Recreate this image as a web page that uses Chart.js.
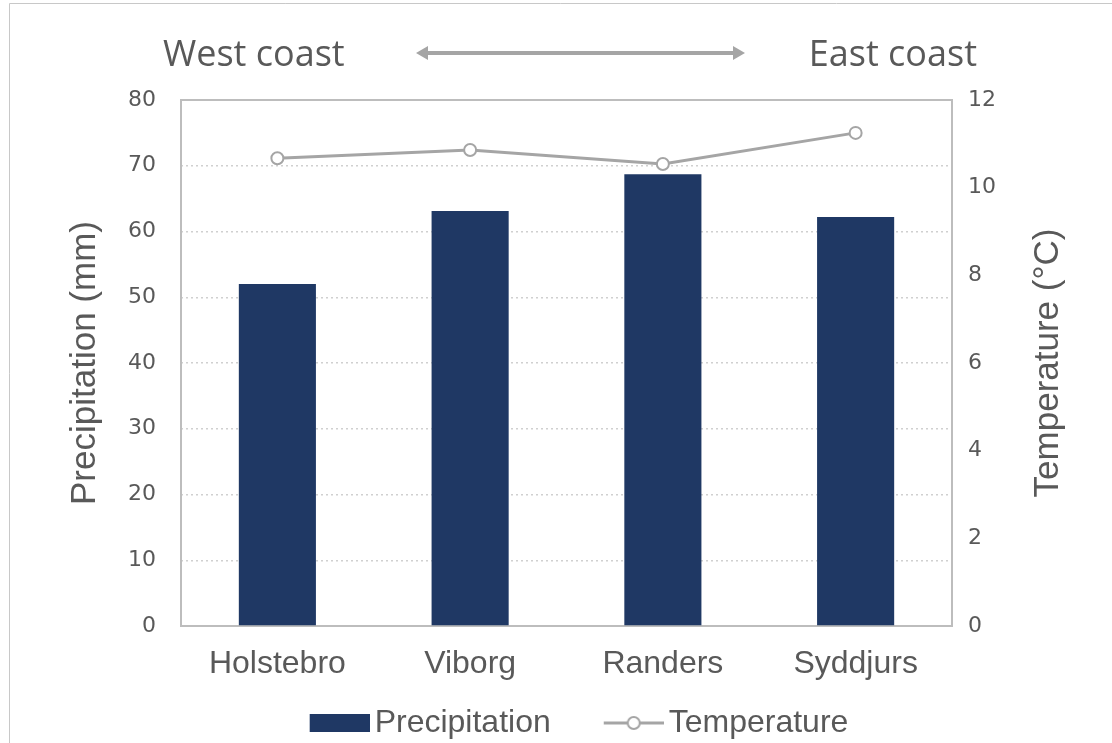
<!DOCTYPE html>
<html>
<head>
<meta charset="utf-8">
<title>Precipitation and temperature, west to east</title>
<script src="https://cdn.jsdelivr.net/npm/chart.js@4.4.1/dist/chart.umd.min.js"></script>
<style>
  html, body { margin: 0; padding: 0; background: #ffffff; }
  #wrap { width: 1112px; height: 743px; position: relative; }
</style>
</head>
<body>
<div id="wrap"><canvas id="chart" width="1112" height="743"></canvas></div>
<script>
// Stations, ordered from the west coast to the east coast
const categories = ['Holstebro', 'Viborg', 'Randers', 'Syddjurs'];
// Precipitation (mm) per station
const precipitation = [52.0, 63.1, 68.7, 62.2];
// Temperature (°C) per station
const temperature = [10.67, 10.86, 10.54, 11.25];
// Axis tick values
const precipTicks = [0, 10, 20, 30, 40, 50, 60, 70, 80];
const tempTicks = [0, 2, 4, 6, 8, 10, 12];

const BAR_COLOR = '#1F3864';
const LINE_COLOR = '#A5A5A5';
const TEXT_COLOR = '#595959';
const AXIS_COLOR = '#BDBDBD';
const GRID_COLOR = '#D0D0D0';

// Legend icons: drawn in the right part of a wider transparent canvas so the
// symbol sits close to its text
const ICON_W = 114;
function makeBarIcon() {
  const c = document.createElement('canvas');
  c.width = ICON_W; c.height = 18;
  const g = c.getContext('2d');
  g.fillStyle = BAR_COLOR;
  g.fillRect(ICON_W - 60, 0, 60, 18);
  return c;
}
function makeLineIcon() {
  const c = document.createElement('canvas');
  c.width = ICON_W; c.height = 16;
  const g = c.getContext('2d');
  g.strokeStyle = LINE_COLOR;
  g.lineWidth = 3;
  g.beginPath(); g.moveTo(ICON_W - 60, 8); g.lineTo(ICON_W, 8); g.stroke();
  g.fillStyle = '#ffffff';
  g.lineWidth = 2;
  g.beginPath(); g.arc(ICON_W - 30, 8, 6, 0, Math.PI * 2); g.fill(); g.stroke();
  return c;
}
const barIcon = makeBarIcon();
const lineIcon = makeLineIcon();

// Frame, plot border, coast headings with the double arrow, right axis title
const decorations = {
  id: 'decorations',
  beforeDraw(chart) {
    const ctx = chart.ctx;
    ctx.save();
    ctx.fillStyle = '#ffffff';
    ctx.fillRect(0, 0, chart.width, chart.height);
    ctx.strokeStyle = '#C8C8C8';
    ctx.lineWidth = 1;
    ctx.beginPath();
    ctx.moveTo(9.5, chart.height);
    ctx.lineTo(9.5, 3.5);
    ctx.lineTo(chart.width, 3.5);
    ctx.stroke();
    ctx.restore();
  },
  beforeDatasetsDraw(chart) {
    const {ctx, chartArea: a} = chart;
    ctx.save();
    ctx.strokeStyle = AXIS_COLOR;
    ctx.lineWidth = 2;
    ctx.strokeRect(a.left, a.top, a.right - a.left, a.bottom - a.top);
    ctx.restore();
  },
  afterDraw(chart) {
    const {ctx, chartArea: a} = chart;
    ctx.save();
    ctx.fillStyle = TEXT_COLOR;
    ctx.font = '36px "Open Sans", sans-serif';
    ctx.textBaseline = 'middle';
    ctx.textAlign = 'left';
    ctx.fillText('West coast', 163, 56);
    ctx.textAlign = 'right';
    ctx.fillText('East coast', 977, 56);

    // double-headed arrow between the headings
    const y = 53, x0 = 416, x1 = 745, head = 12, hw = 7;
    ctx.strokeStyle = LINE_COLOR;
    ctx.fillStyle = LINE_COLOR;
    ctx.lineWidth = 4;
    ctx.beginPath(); ctx.moveTo(x0 + head - 2, y); ctx.lineTo(x1 - head + 2, y); ctx.stroke();
    ctx.beginPath(); ctx.moveTo(x0, y); ctx.lineTo(x0 + head, y - hw); ctx.lineTo(x0 + head, y + hw); ctx.closePath(); ctx.fill();
    ctx.beginPath(); ctx.moveTo(x1, y); ctx.lineTo(x1 - head, y - hw); ctx.lineTo(x1 - head, y + hw); ctx.closePath(); ctx.fill();

    // right axis title, reading bottom to top
    ctx.fillStyle = TEXT_COLOR;
    ctx.font = '35px "Liberation Sans", Arial, sans-serif';
    ctx.textAlign = 'center';
    ctx.textBaseline = 'middle';
    ctx.translate(1048, (a.top + a.bottom) / 2);
    ctx.rotate(-Math.PI / 2);
    ctx.fillText('Temperature (°C)', 0, 0);
    ctx.restore();
  }
};

new Chart(document.getElementById('chart'), {
  data: {
    labels: categories,
    datasets: [
      {
        type: 'bar',
        label: 'Precipitation',
        data: precipitation,
        yAxisID: 'y',
        backgroundColor: BAR_COLOR,
        borderWidth: 0,
        barPercentage: 0.4,
        categoryPercentage: 1.0,
        order: 2
      },
      {
        type: 'line',
        label: 'Temperature',
        data: temperature,
        yAxisID: 'y1',
        borderColor: LINE_COLOR,
        borderWidth: 3,
        pointRadius: 6,
        pointBorderWidth: 2,
        pointBackgroundColor: '#ffffff',
        pointBorderColor: LINE_COLOR,
        pointStyle: 'circle',
        tension: 0,
        order: 1
      }
    ]
  },
  options: {
    responsive: false,
    animation: false,
    devicePixelRatio: 1,
    layout: { padding: { top: 100, left: 3, right: 0, bottom: -6 } },
    scales: {
      x: {
        type: 'category',
        position: 'bottom',
        grid: { display: false, drawTicks: false },
        border: { display: false },
        ticks: {
          color: TEXT_COLOR,
          padding: 19,
          maxRotation: 0,
          autoSkip: false,
          font: { family: '"Liberation Sans", Arial, sans-serif', size: 32 }
        },
        afterFit(scale) { scale.height = 71; }
      },
      y: {
        type: 'linear',
        position: 'left',
        min: precipTicks[0],
        max: precipTicks[precipTicks.length - 1],
        afterBuildTicks(scale) { scale.ticks = precipTicks.map(v => ({ value: v })); },
        grid: {
          drawTicks: false,
          tickLength: 0,
          lineWidth: 1.5,
          color: ctx => (ctx.tick && (ctx.tick.value === 0 || ctx.tick.value === 80)) ? 'rgba(0,0,0,0)' : GRID_COLOR
        },
        border: { display: false, dash: [2, 3] },
        ticks: {
          color: TEXT_COLOR,
          padding: 25,
          font: { family: '"DejaVu Sans", sans-serif', size: 22 }
        },
        title: {
          display: true,
          text: 'Precipitation (mm)',
          color: TEXT_COLOR,
          padding: { top: 61, bottom: 0 },
          font: { family: '"Liberation Sans", Arial, sans-serif', size: 35 }
        },
        afterFit(scale) { scale.width = 178; }
      },
      y1: {
        type: 'linear',
        position: 'right',
        min: tempTicks[0],
        max: tempTicks[tempTicks.length - 1],
        afterBuildTicks(scale) { scale.ticks = tempTicks.map(v => ({ value: v })); },
        grid: { drawOnChartArea: false, drawTicks: false, tickLength: 0 },
        border: { display: false },
        ticks: {
          color: TEXT_COLOR,
          padding: 16,
          font: { family: '"DejaVu Sans", sans-serif', size: 22 }
        },
        afterFit(scale) { scale.width = 160; }
      }
    },
    plugins: {
      legend: {
        display: true,
        position: 'bottom',
        labels: {
          usePointStyle: true,
          pointStyleWidth: 92,
          padding: 10,
          color: TEXT_COLOR,
          font: { family: '"Liberation Sans", Arial, sans-serif', size: 32 },
          generateLabels(chart) {
            return chart.data.datasets.map((ds, i) => ({
              text: ds.label,
              pointStyle: i === 0 ? barIcon : lineIcon,
              fillStyle: 'rgba(0,0,0,0)',
              strokeStyle: 'rgba(0,0,0,0)',
              lineWidth: 0,
              fontColor: TEXT_COLOR,
              hidden: false,
              datasetIndex: i
            }));
          }
        }
      },
      tooltip: { enabled: false },
      title: { display: false }
    }
  },
  plugins: [decorations]
});
</script>
</body>
</html>
